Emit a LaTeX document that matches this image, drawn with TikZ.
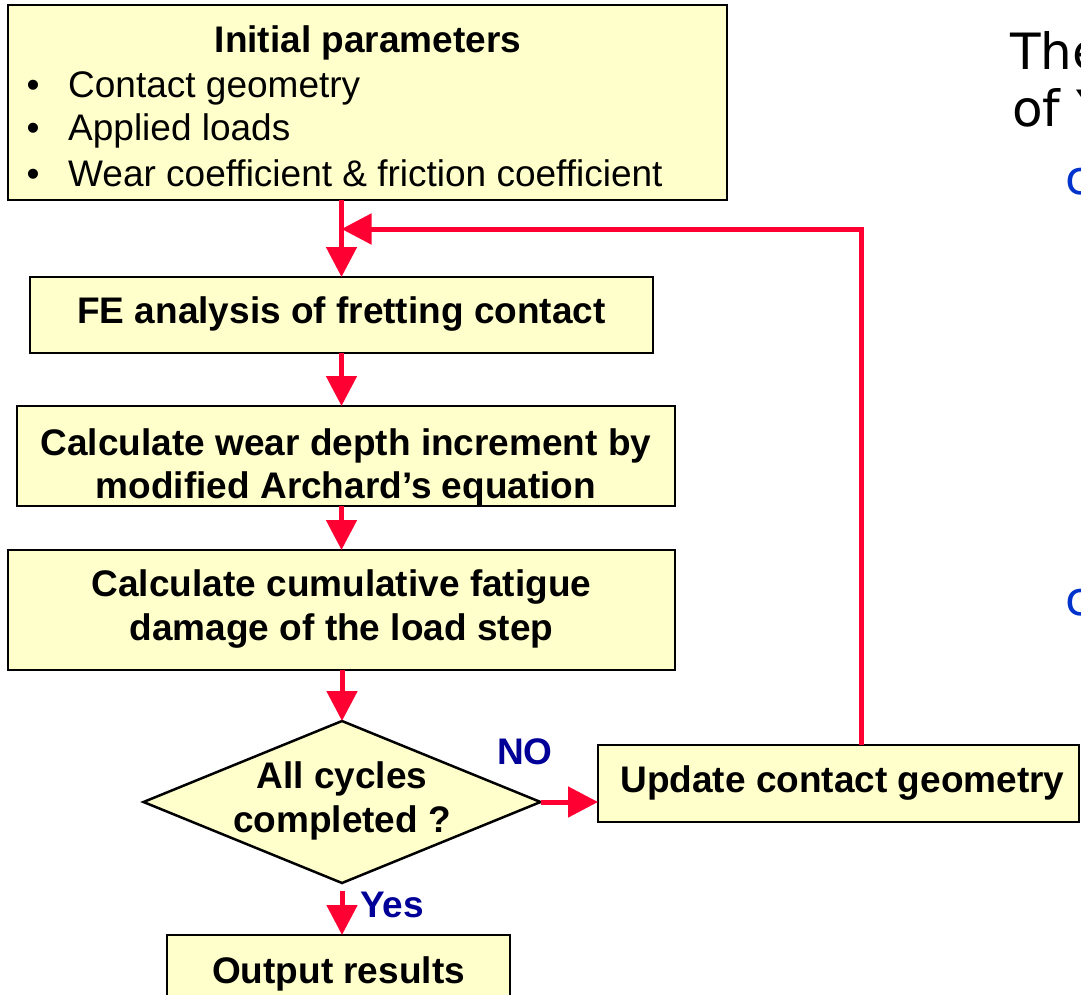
\documentclass[tikz,border=0pt]{standalone}
\usepackage{fontspec}
\setmainfont{Liberation Sans}
\newfontfamily\dejavu{DejaVu Sans}
\usetikzlibrary{arrows.meta,shapes.geometric}
\definecolor{boxfill}{HTML}{FFFFCC}
\definecolor{flowred}{HTML}{FF0033}
\definecolor{labblue}{HTML}{000099}
\definecolor{cblue}{HTML}{0033CC}
\begin{document}
\begin{tikzpicture}[x=1pt,y=-1pt,
  box/.style={draw=black,line width=2.5pt,fill=boxfill,inner sep=0pt,outer sep=0pt,rectangle},
  decision/.style={draw=black,line width=2.5pt,fill=boxfill,inner sep=0pt,outer sep=0pt,diamond},
  txt/.style={inner sep=0pt,font=\bfseries\fontsize{37}{44}\selectfont,anchor=base},
  bullettxt/.style={inner sep=0pt,font=\fontsize{37}{44}\selectfont,anchor=base west},
  lab/.style={inner sep=0pt,text=labblue,font=\bfseries\fontsize{37}{44}\selectfont,anchor=base west},
  flow/.style={draw=flowred,line width=5pt,-{Triangle[length=30pt,width=30pt]}},
  sidetxt/.style={inner sep=0pt,font=\dejavu\fontsize{50}{57}\selectfont,anchor=base west},
  sidec/.style={inner sep=0pt,text=cblue,font=\dejavu\fontsize{47}{54}\selectfont,anchor=base west}]
\useasboundingbox (0,0) rectangle (1081,995);
\clip (0,0) rectangle (1081,995);
\fill[white] (0,0) rectangle (1081,995);

% boxes
\node[box,minimum width=719pt,minimum height=195pt] (init) at (367.5,102.5) {};
\node[box,minimum width=623pt,minimum height=76pt] (fe) at (341.5,315) {};
\node[box,minimum width=658pt,minimum height=100pt] (wear) at (346,456) {};
\node[box,minimum width=667pt,minimum height=120pt] (fat) at (341.5,610) {};
\node[decision,minimum width=397pt,minimum height=162pt] (dia) at (342,802) {};
\node[box,minimum width=481pt,minimum height=77pt] (upd) at (838.5,783.5) {};
\node[box,minimum width=343pt,minimum height=80pt] (out) at (338.5,975) {};

% texts
\node[txt] (initT) at (368,53) {Initial parameters};
\node[bullettxt] (b1) at (26.5,98) {\makebox[41.5pt][l]{•}Contact geometry};
\node[bullettxt] (b2) at (26.5,141) {\makebox[41.5pt][l]{•}Applied loads};
\node[bullettxt] (b3) at (26.5,186) {\makebox[41.5pt][l]{•}Wear coefficient \& friction coefficient};
\node[txt] (feT) at (341.5,323) {FE analysis of fretting contact};
\node[txt] (wearT1) at (346,455) {Calculate wear depth increment by};
\node[txt] (wearT2) at (346,498) {modified Archard’s equation};
\node[txt] (fatT1) at (341.5,596) {Calculate cumulative fatigue};
\node[txt] (fatT2) at (341.5,640) {damage of the load step};
\node[txt] (diaT1) at (342,788) {All cycles};
\node[txt] (diaT2) at (342,832) {completed ?};
\node[txt] (updT) at (842.5,792) {Update contact geometry};
\node[txt] (outT) at (338.5,983) {Output results};
\node[lab] (no) at (497,764) {NO};
\node[lab] (yes) at (360,917) {Yes};

% right-hand cut-off text
\node[sidetxt] (the) at (1010,70) {The};
\node[sidetxt] (of) at (1012,127) {of Y};
\node[sidec] (c1) at (1065,195) {c};
\node[sidec] (c2) at (1065,615) {c};

% connectors
\coordinate (fbtop) at (861,229);
\draw[flow] (fe.north |- init.south) -- (fe.north);
\draw[flow] (fe.south) -- (fe.south |- wear.north);
\draw[flow] (fe.south |- wear.south) -- (fe.south |- fat.north);
\draw[flow] (dia.north |- fat.south) -- (dia.north);
\draw[flow] (dia.east) -- (dia.east -| upd.west);
\draw[flow] ([yshift=-8pt]dia.south) -- (dia.south |- out.north);
\draw[flow] (upd.north -| fbtop) -- (fbtop) -- (fbtop -| fe.north);
\end{tikzpicture}
\end{document}
